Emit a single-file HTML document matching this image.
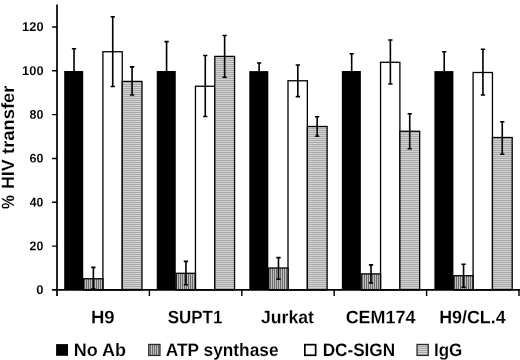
<!DOCTYPE html>
<html><head><meta charset="utf-8"><title>HIV transfer</title>
<style>
html,body{margin:0;padding:0;background:#fff;}
body{width:520px;height:360px;overflow:hidden;}
svg{display:block;}
text{font-family:"Liberation Sans",sans-serif;font-weight:bold;fill:#000;stroke:#fff;stroke-width:0.12;}
text.s{stroke-width:0.06;}
</style></head><body>
<svg width="520" height="360" viewBox="0 0 520 360">
<defs>
<pattern id="hz" patternUnits="userSpaceOnUse" width="8" height="2" shape-rendering="crispEdges">
<rect width="8" height="2" fill="#d3d3d3"/><rect width="8" height="1" fill="#a9a9a9"/>
</pattern>
<pattern id="vt" patternUnits="userSpaceOnUse" width="2" height="8" shape-rendering="crispEdges">
<rect width="2" height="8" fill="#bebebe"/><rect width="1" height="8" fill="#6c6c6c"/>
</pattern>
</defs>
<rect width="520" height="360" fill="#fff"/>

<rect x="102.90" y="51.75" width="19.35" height="238.20" fill="#fff" stroke="#000" stroke-width="1.3"/>
<rect x="122.25" y="81.40" width="19.75" height="208.55" fill="url(#hz)" stroke="#000" stroke-width="1.3"/>
<rect x="83.55" y="278.75" width="19.35" height="11.20" fill="url(#vt)" stroke="#000" stroke-width="1.3"/>
<rect x="64.20" y="71.00" width="19.0" height="218.95" fill="#000"/>
<path d="M74.03 48.75V70.90M71.88 48.75H76.18" stroke="#000" stroke-width="1.6" fill="none"/>
<path d="M93.38 267.40V288.90M91.23 267.40H95.53M91.23 288.90H95.53" stroke="#000" stroke-width="1.6" fill="none"/>
<path d="M112.73 16.75V86.50M110.58 16.75H114.88M110.58 86.50H114.88" stroke="#000" stroke-width="1.6" fill="none"/>
<path d="M132.08 66.90V95.00M129.93 66.90H134.23M129.93 95.00H134.23" stroke="#000" stroke-width="1.6" fill="none"/>
<rect x="195.45" y="86.25" width="19.35" height="203.70" fill="#fff" stroke="#000" stroke-width="1.3"/>
<rect x="214.80" y="56.40" width="19.75" height="233.55" fill="url(#hz)" stroke="#000" stroke-width="1.3"/>
<rect x="176.10" y="273.30" width="19.35" height="16.65" fill="url(#vt)" stroke="#000" stroke-width="1.3"/>
<rect x="156.75" y="71.00" width="19.0" height="218.95" fill="#000"/>
<path d="M166.58 41.60V70.90M164.43 41.60H168.73" stroke="#000" stroke-width="1.6" fill="none"/>
<path d="M185.93 261.40V284.70M183.78 261.40H188.08M183.78 284.70H188.08" stroke="#000" stroke-width="1.6" fill="none"/>
<path d="M205.28 55.50V116.50M203.12 55.50H207.43M203.12 116.50H207.43" stroke="#000" stroke-width="1.6" fill="none"/>
<path d="M224.63 35.50V77.20M222.48 35.50H226.78M222.48 77.20H226.78" stroke="#000" stroke-width="1.6" fill="none"/>
<rect x="288.00" y="80.75" width="19.35" height="209.20" fill="#fff" stroke="#000" stroke-width="1.3"/>
<rect x="307.35" y="126.50" width="19.75" height="163.45" fill="url(#hz)" stroke="#000" stroke-width="1.3"/>
<rect x="268.65" y="268.00" width="19.35" height="21.95" fill="url(#vt)" stroke="#000" stroke-width="1.3"/>
<rect x="249.30" y="71.10" width="19.0" height="218.85" fill="#000"/>
<path d="M259.12 63.00V71.00M256.97 63.00H261.27" stroke="#000" stroke-width="1.6" fill="none"/>
<path d="M278.47 257.60V279.20M276.32 257.60H280.62M276.32 279.20H280.62" stroke="#000" stroke-width="1.6" fill="none"/>
<path d="M297.82 65.00V96.60M295.68 65.00H299.97M295.68 96.60H299.97" stroke="#000" stroke-width="1.6" fill="none"/>
<path d="M317.17 116.80V136.30M315.02 116.80H319.32M315.02 136.30H319.32" stroke="#000" stroke-width="1.6" fill="none"/>
<rect x="380.55" y="62.30" width="19.35" height="227.65" fill="#fff" stroke="#000" stroke-width="1.3"/>
<rect x="399.90" y="131.25" width="19.75" height="158.70" fill="url(#hz)" stroke="#000" stroke-width="1.3"/>
<rect x="361.20" y="273.90" width="19.35" height="16.05" fill="url(#vt)" stroke="#000" stroke-width="1.3"/>
<rect x="341.85" y="71.00" width="19.0" height="218.95" fill="#000"/>
<path d="M351.67 53.75V70.90M349.52 53.75H353.82" stroke="#000" stroke-width="1.6" fill="none"/>
<path d="M371.02 264.90V282.90M368.88 264.90H373.17M368.88 282.90H373.17" stroke="#000" stroke-width="1.6" fill="none"/>
<path d="M390.37 40.00V84.00M388.22 40.00H392.52M388.22 84.00H392.52" stroke="#000" stroke-width="1.6" fill="none"/>
<path d="M409.72 113.75V148.75M407.57 113.75H411.87M407.57 148.75H411.87" stroke="#000" stroke-width="1.6" fill="none"/>
<rect x="473.10" y="72.50" width="19.35" height="217.45" fill="#fff" stroke="#000" stroke-width="1.3"/>
<rect x="492.45" y="137.50" width="19.75" height="152.45" fill="url(#hz)" stroke="#000" stroke-width="1.3"/>
<rect x="453.75" y="275.70" width="19.35" height="14.25" fill="url(#vt)" stroke="#000" stroke-width="1.3"/>
<rect x="434.40" y="71.10" width="19.0" height="218.85" fill="#000"/>
<path d="M444.22 51.75V71.00M442.07 51.75H446.37" stroke="#000" stroke-width="1.6" fill="none"/>
<path d="M463.57 264.20V287.20M461.43 264.20H465.72M461.43 287.20H465.72" stroke="#000" stroke-width="1.6" fill="none"/>
<path d="M482.92 49.25V95.00M480.77 49.25H485.07M480.77 95.00H485.07" stroke="#000" stroke-width="1.6" fill="none"/>
<path d="M502.27 121.75V154.25M500.12 121.75H504.42M500.12 154.25H504.42" stroke="#000" stroke-width="1.6" fill="none"/>
<path d="M57.0 4.5V296M52.1 289.95H520" stroke="#000" stroke-width="1.7" fill="none"/>
<path d="M52.1 246.12H57.0M52.1 202.29H57.0M52.1 158.46H57.0M52.1 114.63H57.0M52.1 70.80H57.0M52.1 26.97H57.0M149.40 289.95V296M241.80 289.95V296M334.20 289.95V296M426.60 289.95V296M519.00 289.95V296" stroke="#000" stroke-width="1.45" fill="none"/>
<text id="y0" class="s" x="36.19" y="294.10" transform="rotate(0.03 36.19 294.10)" font-size="12.6" textLength="7.24" lengthAdjust="spacingAndGlyphs">0</text>
<text id="y20" class="s" x="29.61" y="250.27" transform="rotate(0.03 29.61 250.27)" font-size="12.6" textLength="13.79" lengthAdjust="spacingAndGlyphs">20</text>
<text id="y40" class="s" x="29.86" y="206.44" transform="rotate(0.03 29.86 206.44)" font-size="12.6" textLength="13.53" lengthAdjust="spacingAndGlyphs">40</text>
<text id="y60" class="s" x="29.56" y="162.61" transform="rotate(0.03 29.56 162.61)" font-size="12.6" textLength="13.85" lengthAdjust="spacingAndGlyphs">60</text>
<text id="y80" class="s" x="29.61" y="118.78" transform="rotate(0.03 29.61 118.78)" font-size="12.6" textLength="13.79" lengthAdjust="spacingAndGlyphs">80</text>
<text id="y100" class="s" x="22.14" y="74.95" transform="rotate(0.03 22.14 74.95)" font-size="12.6" textLength="21.38" lengthAdjust="spacingAndGlyphs">100</text>
<text id="y120" class="s" x="22.14" y="31.12" transform="rotate(0.03 22.14 31.12)" font-size="12.6" textLength="21.38" lengthAdjust="spacingAndGlyphs">120</text>
<text id="c1" x="90.94" y="323.20" transform="rotate(0.03 90.94 323.20)" font-size="18.0" textLength="23.72" lengthAdjust="spacingAndGlyphs">H9</text>
<text id="c2" x="167.73" y="323.20" transform="rotate(0.03 167.73 323.20)" font-size="18.0" textLength="54.69" lengthAdjust="spacingAndGlyphs">SUPT1</text>
<text id="c3" x="261.00" y="323.20" transform="rotate(0.03 261.00 323.20)" font-size="18.0" textLength="52.84" lengthAdjust="spacingAndGlyphs">Jurkat</text>
<text id="c4" x="345.64" y="323.20" transform="rotate(0.03 345.64 323.20)" font-size="18.0" textLength="69.75" lengthAdjust="spacingAndGlyphs">CEM174</text>
<text id="c5" x="439.13" y="323.20" transform="rotate(0.03 439.13 323.20)" font-size="18.0" textLength="66.55" lengthAdjust="spacingAndGlyphs">H9/CL.4</text>
<text id="l1" x="73.79" y="355.90" transform="rotate(0.03 73.79 355.90)" font-size="18.0" textLength="52.29" lengthAdjust="spacingAndGlyphs">No Ab</text>
<text id="l2" x="165.73" y="355.90" transform="rotate(0.03 165.73 355.90)" font-size="18.0" textLength="112.80" lengthAdjust="spacingAndGlyphs">ATP synthase</text>
<text id="l3" x="322.63" y="355.90" transform="rotate(0.03 322.63 355.90)" font-size="18.0" textLength="72.51" lengthAdjust="spacingAndGlyphs">DC-SIGN</text>
<text id="l4" x="433.94" y="355.90" transform="rotate(0.03 433.94 355.90)" font-size="18.0" textLength="28.37" lengthAdjust="spacingAndGlyphs">IgG</text>
<text id="t1" transform="translate(14.0 208.94) rotate(-90.03)" font-size="17.8" textLength="13.86" lengthAdjust="spacingAndGlyphs">%</text>
<text id="t2" transform="translate(14.0 189.01) rotate(-90.03)" font-size="17.8" textLength="29.73" lengthAdjust="spacingAndGlyphs">HIV</text>
<text id="t3" transform="translate(14.0 153.90) rotate(-90.03)" font-size="17.8" textLength="68.36" lengthAdjust="spacingAndGlyphs">transfer</text>
<rect x="56.1" y="344.1" width="11.9" height="11.7" fill="#000"/>
<rect x="148.75" y="344.45" width="11.20" height="11.00" fill="url(#vt)" stroke="#2a2a2a" stroke-width="1.3"/>
<rect x="304.85" y="344.65" width="10.80" height="10.60" fill="#fff" stroke="#000" stroke-width="1.7"/>
<rect x="417.05" y="344.45" width="11.20" height="11.00" fill="url(#hz)" stroke="#2a2a2a" stroke-width="1.3"/>
</svg></body></html>
